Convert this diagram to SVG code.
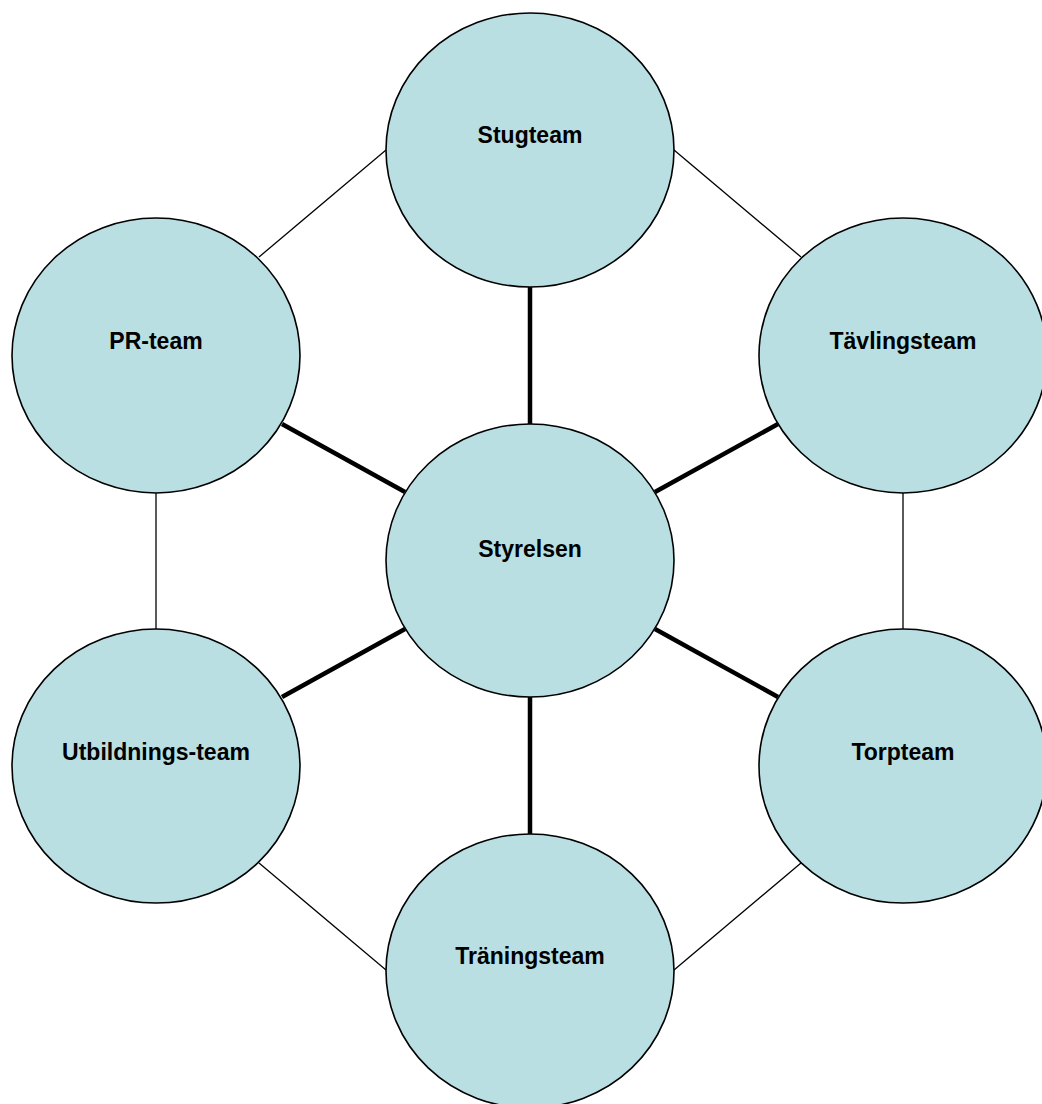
<svg xmlns="http://www.w3.org/2000/svg" width="1042" height="1104" viewBox="0 0 1042 1104">
<style>
.node ellipse{fill:#B9DFE3;stroke:#000;stroke-width:1.6}
.node text{font-family:"Liberation Sans",Arial,sans-serif;font-weight:bold;font-size:23px;fill:#000;text-anchor:middle}
.thick{stroke:#000;stroke-width:4.5;fill:none}
.thin{stroke:#000;stroke-width:1.3;fill:none}
</style>
<rect width="1042" height="1104" fill="#fff"/>
<g id="connectors">
<line class="thick" x1="530" y1="287" x2="530" y2="424"/>
<line class="thick" x1="530" y1="697" x2="530" y2="834"/>
<line class="thick" x1="282" y1="424" x2="405" y2="492"/>
<line class="thick" x1="778" y1="424" x2="655" y2="492"/>
<line class="thick" x1="405" y1="629" x2="282" y2="697"/>
<line class="thick" x1="655" y1="629" x2="778" y2="697"/>
<line class="thin" x1="386" y1="150" x2="259" y2="257"/>
<line class="thin" x1="674" y1="150" x2="801" y2="257"/>
<line class="thin" x1="156" y1="493" x2="156" y2="629"/>
<line class="thin" x1="903" y1="493" x2="903" y2="629"/>
<line class="thin" x1="259" y1="863" x2="386" y2="970"/>
<line class="thin" x1="801" y1="863" x2="674" y2="970"/>
</g>
<g id="stugteam" class="node"><ellipse cx="530" cy="150" rx="144" ry="137"/><text x="530" y="143">Stugteam</text></g>
<g id="pr-team" class="node"><ellipse cx="156" cy="355.5" rx="144" ry="137.5"/><text x="156" y="349">PR-team</text></g>
<g id="tavlingsteam" class="node"><ellipse cx="903" cy="355.5" rx="144" ry="137.5"/><text x="903" y="349">Tävlingsteam</text></g>
<g id="styrelsen" class="node"><ellipse cx="530" cy="560.5" rx="144" ry="136.5"/><text x="530" y="557">Styrelsen</text></g>
<g id="utbildningsteam" class="node"><ellipse cx="156" cy="766" rx="144" ry="137"/><text x="156" y="760">Utbildnings-team</text></g>
<g id="torpteam" class="node"><ellipse cx="903" cy="766" rx="144" ry="137"/><text x="903" y="760">Torpteam</text></g>
<g id="traningsteam" class="node"><ellipse cx="530" cy="971" rx="144" ry="137"/><text x="530" y="964">Träningsteam</text></g>
</svg>
